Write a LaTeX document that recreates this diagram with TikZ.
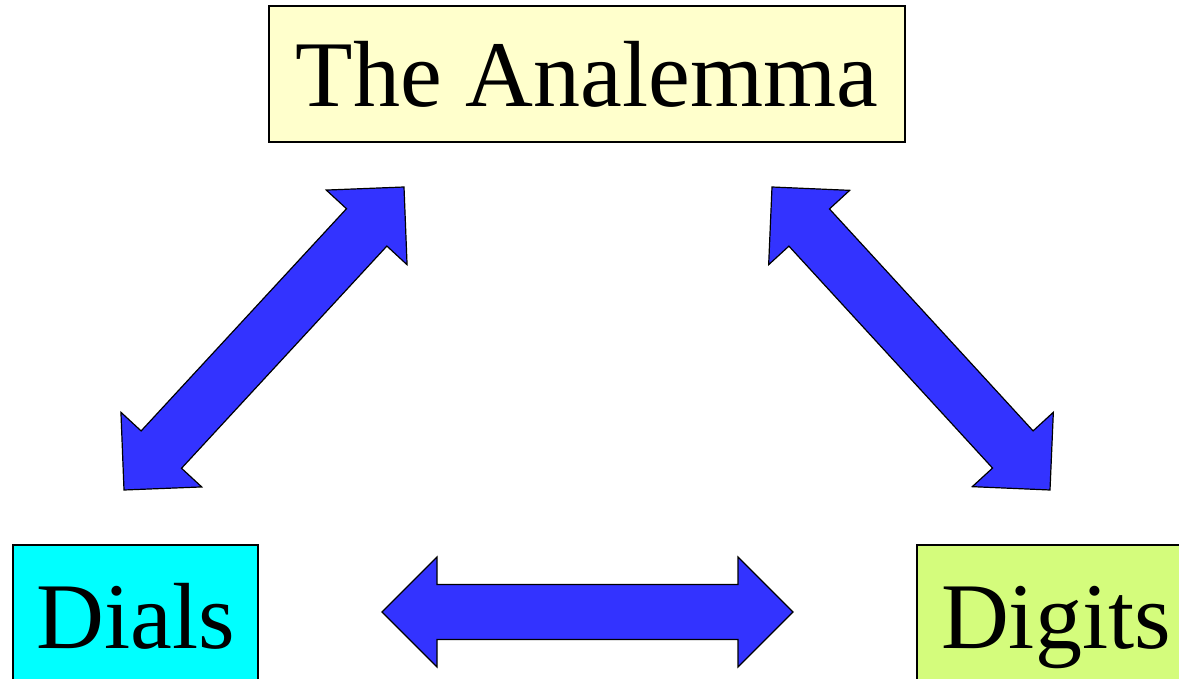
\documentclass[tikz,border=0pt]{standalone}
\usepackage{fontspec}
\setmainfont{Liberation Serif}
\usetikzlibrary{calc}

\definecolor{paleyellow}{HTML}{FFFFCC}
\definecolor{dialcyan}{HTML}{00FFFF}
\definecolor{digitgreen}{HTML}{D4FC7C}
\definecolor{arrowblue}{HTML}{3333FF}

\tikzset{
  topicbox/.style={draw=black, line width=1.5pt, inner sep=0pt,
    text height=65pt, text depth=0pt,
    font=\fontsize{94}{100}\selectfont},
  blockarrow/.style={draw=black, line width=1.2pt, fill=arrowblue,
    line join=miter},
}

% Double-headed block arrow between two named tip coordinates
% (head length 55pt, head half-width 55pt, shaft half-width 27.5pt)
\newcommand\dblockarrow[2]{%
  \path ($(#1)!55pt!(#2)$) coordinate (#1-h)
        ($(#2)!55pt!(#1)$) coordinate (#2-h);
  \draw[blockarrow] (#1)
    -- ($(#1-h)!55pt!90:(#2)$) -- ($(#1-h)!27.5pt!90:(#2)$)
    -- ($(#2-h)!27.5pt!-90:(#1)$) -- ($(#2-h)!55pt!-90:(#1)$)
    -- (#2)
    -- ($(#2-h)!55pt!90:(#1)$) -- ($(#2-h)!27.5pt!90:(#1)$)
    -- ($(#1-h)!27.5pt!-90:(#2)$) -- ($(#1-h)!55pt!-90:(#2)$)
    -- cycle;}

\begin{document}
\begin{tikzpicture}[x=1pt, y=-1pt]
  \useasboundingbox (0,0) rectangle (1179,679);

  % topic boxes
  \node[topicbox, fill=paleyellow, minimum width=636pt, minimum height=136pt]
    (analemma) at (587,74) {The Analemma};
  \node[topicbox, fill=dialcyan, minimum width=245pt, minimum height=141pt]
    (dials) at (135.5,615.5) {Dials};
  \node[topicbox, fill=digitgreen, minimum width=278pt, minimum height=141pt]
    (digits) at (1056,615.5) {Digits};

  % arrow tips
  \coordinate (anL) at (404,187);
  \coordinate (diT) at (124,490);
  \coordinate (anR) at (772,187);
  \coordinate (dgT) at (1050,490);
  \coordinate (diR) at (382,612);
  \coordinate (dgL) at (793,612);

  % links between the topics
  \dblockarrow{anL}{diT}
  \dblockarrow{anR}{dgT}
  \dblockarrow{diR}{dgL}
\end{tikzpicture}
\end{document}
